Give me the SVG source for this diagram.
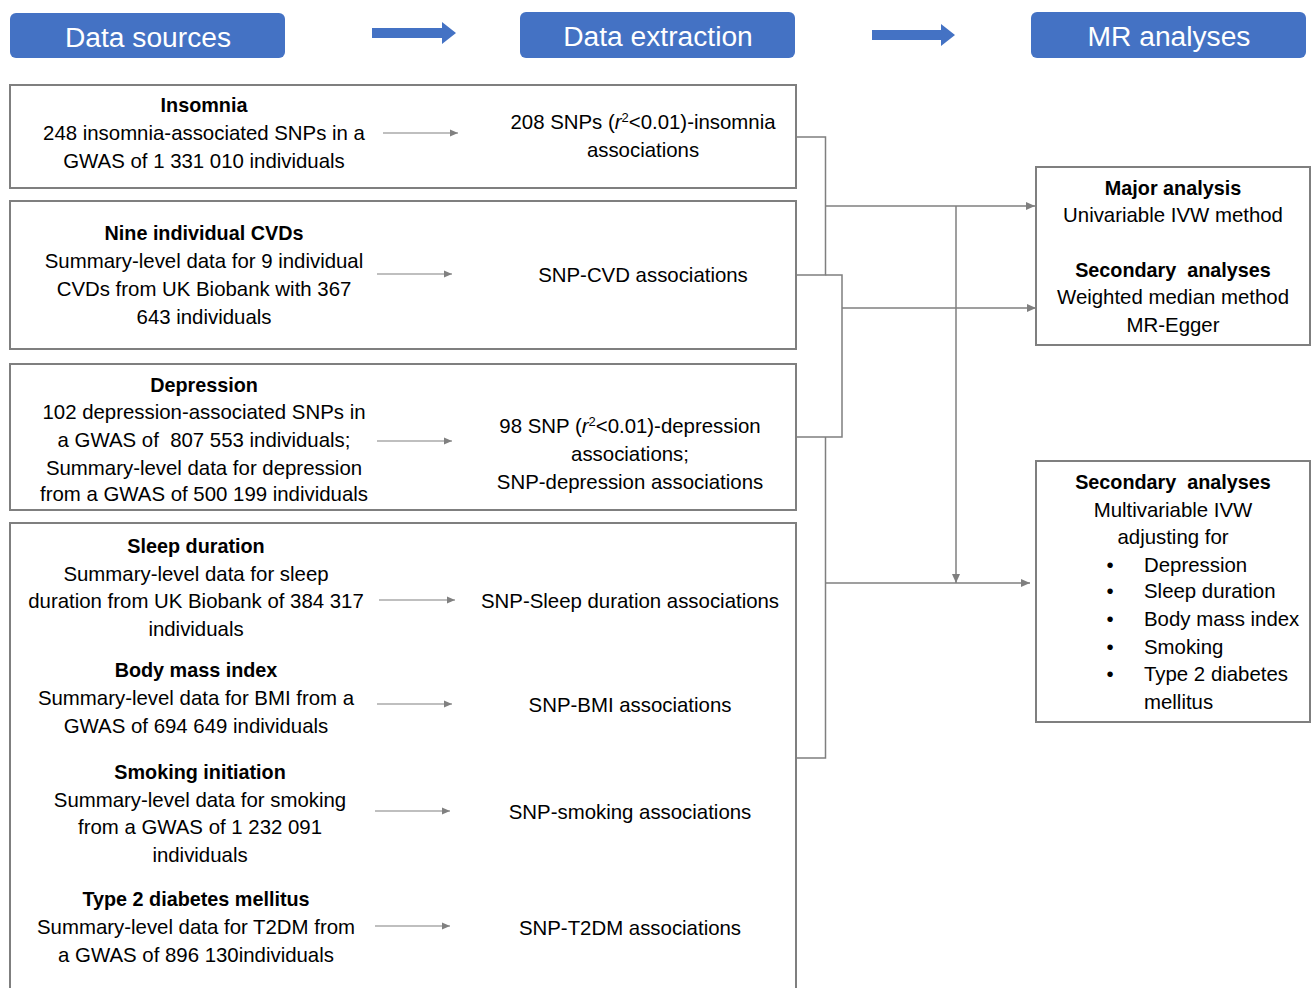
<svg xmlns="http://www.w3.org/2000/svg" width="1312" height="988" viewBox="0 0 1312 988">
<style>
text{font-family:"Liberation Sans",Arial,sans-serif;font-size:20.4px;fill:#000;text-anchor:middle}
.b{font-weight:bold;font-size:19.8px}
.hd{fill:#fff;font-size:28.2px}
.hbox{fill:#4472C4}
.box{fill:#fff;stroke:#7f7f7f;stroke-width:2}
.ln{fill:none;stroke:#7f7f7f;stroke-width:1.5}
.sm{fill:none;stroke:#808080;stroke-width:1.2}
.sup{font-size:13px}
.l{text-anchor:start}
</style>
<defs>
<marker id="ah" markerWidth="10" markerHeight="10" refX="9" refY="5" orient="auto" markerUnits="userSpaceOnUse">
<path d="M0,1 L9,5 L0,9 Z" fill="#7f7f7f"/>
</marker>
<marker id="as" markerWidth="9" markerHeight="8" refX="8" refY="4" orient="auto" markerUnits="userSpaceOnUse">
<path d="M0,0.5 L8,4 L0,7.5 Z" fill="#808080"/>
</marker>
</defs>

<g id="header-sources"><rect class="hbox" x="10" y="13" width="275" height="45" rx="6"/><text class="hd" x="148" y="47">Data sources</text></g>
<g id="header-extraction"><rect class="hbox" x="520" y="12" width="275" height="46" rx="6"/><text class="hd" x="658" y="46">Data extraction</text></g>
<g id="header-mr"><rect class="hbox" x="1031" y="12" width="275" height="46" rx="6"/><text class="hd" x="1169" y="46">MR analyses</text></g>
<g id="block-arrows" fill="#4472C4">
<path d="M372,28 H442 V22 L456,33 L442,44 V38 H372 Z"/>
<path d="M872,30 H941 V24 L955,35 L941,46 V40 H872 Z"/>
</g>

<g id="node-insomnia">
<rect class="box" x="10" y="85" width="786" height="103"/>
<text class="b" x="204" y="112">Insomnia</text>
<text x="204" y="140">248 insomnia-associated SNPs in a</text>
<text x="204" y="168">GWAS of 1 331 010 individuals</text>
<line class="sm" x1="383" y1="133" x2="458" y2="133" marker-end="url(#as)"/>
<text x="643" y="129">208 SNPs (<tspan font-style="italic">r</tspan><tspan class="sup" dy="-7">2</tspan><tspan dy="7">&lt;0.01)-insomnia</tspan></text>
<text x="643" y="157">associations</text>
</g>

<g id="node-cvd">
<rect class="box" x="10" y="201" width="786" height="148"/>
<text class="b" x="204" y="240">Nine individual CVDs</text>
<text x="204" y="268">Summary-level data for 9 individual</text>
<text x="204" y="296">CVDs from UK Biobank with 367</text>
<text x="204" y="324">643 individuals</text>
<line class="sm" x1="377" y1="274" x2="452" y2="274" marker-end="url(#as)"/>
<text x="643" y="282">SNP-CVD associations</text>
</g>

<g id="node-depression">
<rect class="box" x="10" y="364" width="786" height="146"/>
<text class="b" x="204" y="392">Depression</text>
<text x="204" y="419">102 depression-associated SNPs in</text>
<text x="204" y="447" xml:space="preserve">a GWAS of  807 553 individuals;</text>
<text x="204" y="475">Summary-level data for depression</text>
<text x="204" y="501">from a GWAS of 500 199 individuals</text>
<line class="sm" x1="377" y1="441" x2="452" y2="441" marker-end="url(#as)"/>
<text x="630" y="433">98 SNP (<tspan font-style="italic">r</tspan><tspan class="sup" dy="-7">2</tspan><tspan dy="7">&lt;0.01)-depression</tspan></text>
<text x="630" y="461">associations;</text>
<text x="630" y="489">SNP-depression associations</text>
</g>

<g id="node-covariates">
<rect class="box" x="10" y="523" width="786" height="480"/>
<text class="b" x="196" y="553">Sleep duration</text>
<text x="196" y="581">Summary-level data for sleep</text>
<text x="196" y="608">duration from UK Biobank of 384 317</text>
<text x="196" y="636">individuals</text>
<line class="sm" x1="379" y1="600" x2="455" y2="600" marker-end="url(#as)"/>
<text x="630" y="608">SNP-Sleep duration associations</text>

<text class="b" x="196" y="677">Body mass index</text>
<text x="196" y="705">Summary-level data for BMI from a</text>
<text x="196" y="733">GWAS of 694 649 individuals</text>
<line class="sm" x1="377" y1="704" x2="452" y2="704" marker-end="url(#as)"/>
<text x="630" y="712">SNP-BMI associations</text>

<text class="b" x="200" y="779">Smoking initiation</text>
<text x="200" y="807">Summary-level data for smoking</text>
<text x="200" y="834">from a GWAS of 1 232 091</text>
<text x="200" y="862">individuals</text>
<line class="sm" x1="375" y1="811" x2="450" y2="811" marker-end="url(#as)"/>
<text x="630" y="819">SNP-smoking associations</text>

<text class="b" x="196" y="906">Type 2 diabetes mellitus</text>
<text x="196" y="934">Summary-level data for T2DM from</text>
<text x="196" y="962">a GWAS of 896 130individuals</text>
<line class="sm" x1="375" y1="926" x2="450" y2="926" marker-end="url(#as)"/>
<text x="630" y="935">SNP-T2DM associations</text>
</g>

<g id="node-major">
<rect class="box" x="1036" y="167" width="274" height="178"/>
<text class="b" x="1173" y="195">Major analysis</text>
<text x="1173" y="222">Univariable IVW method</text>
<text class="b" x="1173" y="277" xml:space="preserve">Secondary  analyses</text>
<text x="1173" y="304">Weighted median method</text>
<text x="1173" y="332">MR-Egger</text>
</g>

<g id="node-secondary">
<rect class="box" x="1036" y="461" width="274" height="261"/>
<text class="b" x="1173" y="489" xml:space="preserve">Secondary  analyses</text>
<text x="1173" y="517">Multivariable IVW</text>
<text x="1173" y="544">adjusting for</text>
<text x="1110" y="572">•</text><text class="l" x="1144" y="572">Depression</text>
<text x="1110" y="598">•</text><text class="l" x="1144" y="598">Sleep duration</text>
<text x="1110" y="626">•</text><text class="l" x="1144" y="626">Body mass index</text>
<text x="1110" y="654">•</text><text class="l" x="1144" y="654">Smoking</text>
<text x="1110" y="681">•</text><text class="l" x="1144" y="681">Type 2 diabetes</text>
<text class="l" x="1144" y="709">mellitus</text>
</g>

<g id="connectors">
<path class="ln" d="M796,137 H825.5 V275 H796"/>
<path class="ln" d="M825.5,275 H842 V437 H796"/>
<path class="ln" d="M825.5,437 V758 H796"/>
<line class="ln" x1="825.5" y1="206" x2="1035" y2="206" marker-end="url(#ah)"/>
<line class="ln" x1="842" y1="308" x2="1036" y2="308" marker-end="url(#ah)"/>
<line class="ln" x1="956" y1="206" x2="956" y2="583" marker-end="url(#ah)"/>
<line class="ln" x1="825.5" y1="583" x2="1030" y2="583" marker-end="url(#ah)"/>
</g>
</svg>
